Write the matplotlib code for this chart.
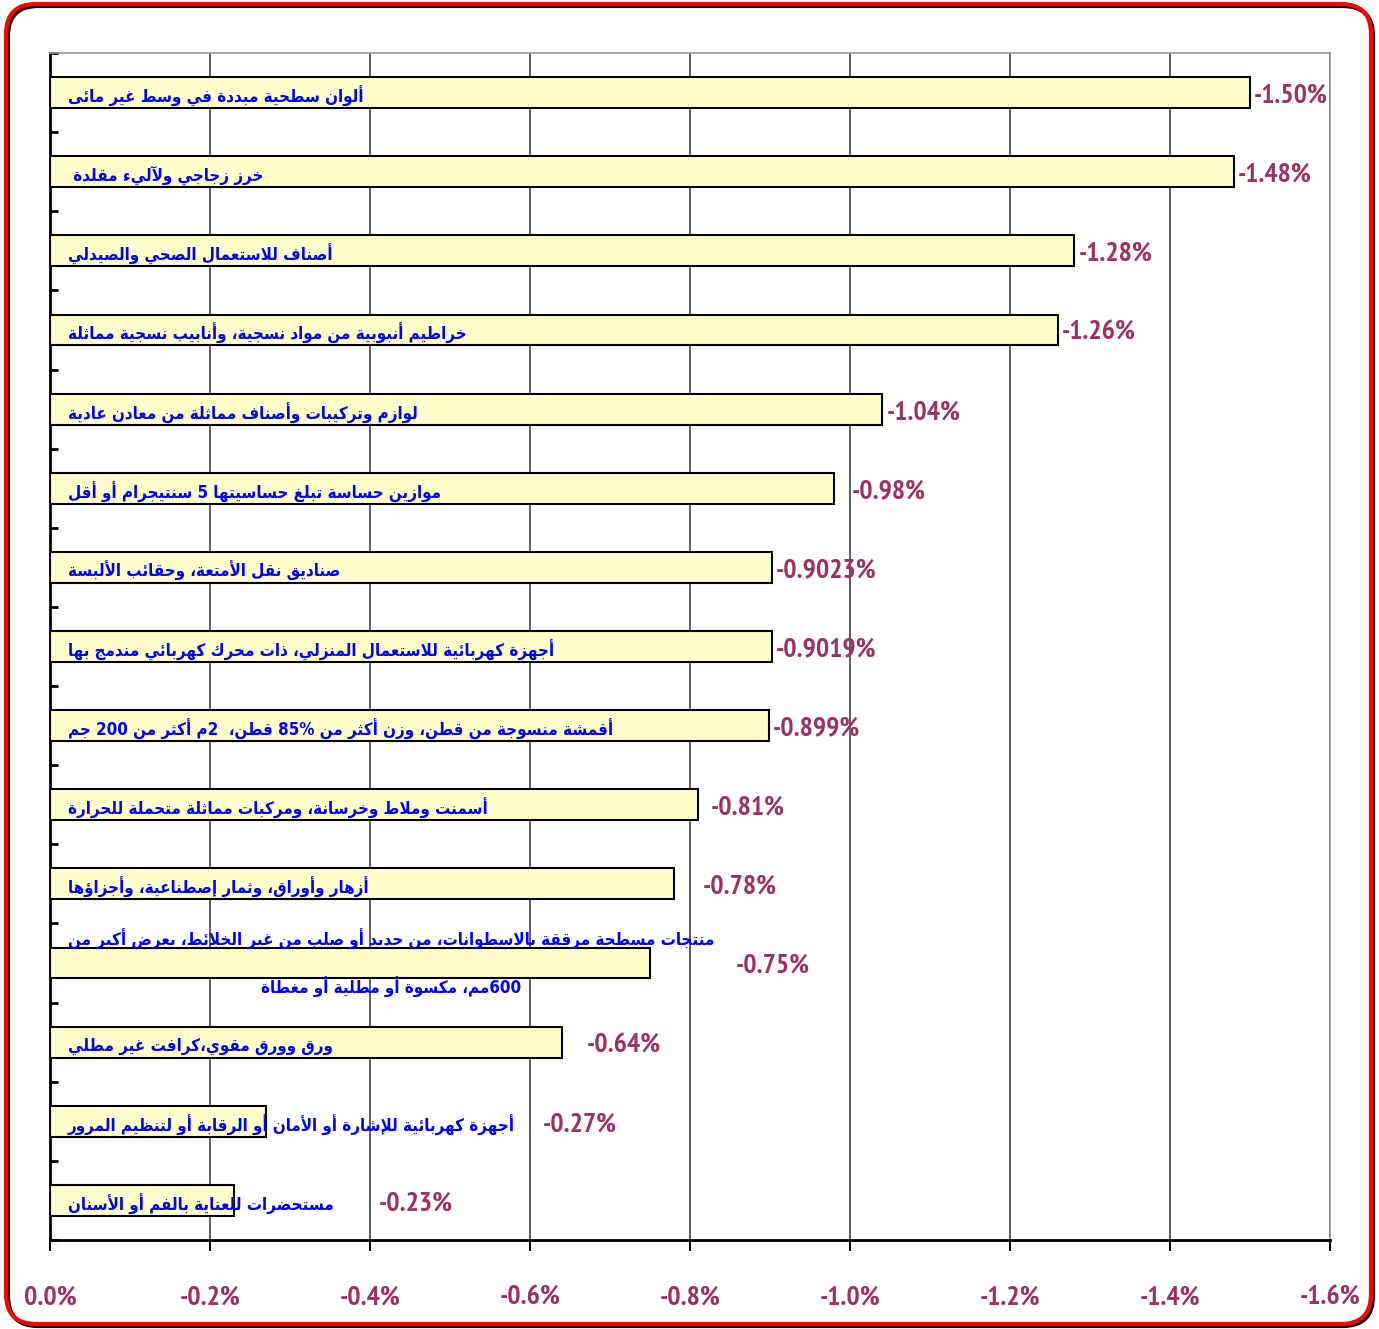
import re
import numpy as np
import matplotlib
matplotlib.use("Agg")
from matplotlib import pyplot as plt
from matplotlib.patches import FancyBboxPatch
from matplotlib import font_manager

categories = [
    "ألوان سطحية مبددة في وسط غير مائى",
    "خرز زجاجي ولآليء مقلدة ",
    "أصناف للاستعمال الصحي والصيدلي",
    "خراطيم أنبوبية من مواد نسجية، وأنابيب نسجية مماثلة",
    "لوازم وتركيبات وأصناف مماثلة من معادن عادية",
    "موازين حساسة تبلغ حساسيتها 5 سنتيجرام أو أقل",
    "صناديق نقل الأمتعة، وحقائب الألبسة",
    "أجهزة كهربائية للاستعمال المنزلي، ذات محرك كهربائي مندمج بها",
    "أقمشة منسوجة من قطن، وزن أكثر من 85% قطن،  2م أكثر من 200 جم",
    "أسمنت وملاط وخرسانة، ومركبات مماثلة متحملة للحرارة",
    "أزهار وأوراق، وثمار إصطناعية، وأجزاؤها",
    "منتجات مسطحة مرققة بالاسطوانات، من حديد أو صلب من غير الخلائط، بعرض أكبر من\n600مم، مكسوة أو مطلية أو مغطاة",
    "ورق وورق مقوي،كرافت غير مطلي",
    "أجهزة كهربائية للإشارة أو الأمان أو الرقابة أو لتنظيم المرور",
    "مستحضرات للعناية بالفم أو الأسنان",
]
values = [-1.50, -1.48, -1.28, -1.26, -1.04, -0.98, -0.9023, -0.9019,
          -0.899, -0.81, -0.78, -0.75, -0.64, -0.27, -0.23]
value_labels = ["-1.50%", "-1.48%", "-1.28%", "-1.26%", "-1.04%", "-0.98%",
                "-0.9023%", "-0.9019%", "-0.899%", "-0.81%", "-0.78%",
                "-0.75%", "-0.64%", "-0.27%", "-0.23%"]
x_ticks = [0.0, -0.2, -0.4, -0.6, -0.8, -1.0, -1.2, -1.4, -1.6]

# label nudges (pixels) so the value labels clear the arabic text
label_shift = [4, 4, 5, 4, 5, 18, 4, 4, 4, 13, 29, 86, 25, 277, 145]

# arabic letters -> first presentation form and number of forms
FORMS = {
    'ء': (0xFE80, 1), 'آ': (0xFE81, 2), 'أ': (0xFE83, 2), 'ؤ': (0xFE85, 2),
    'إ': (0xFE87, 2), 'ئ': (0xFE89, 4), 'ا': (0xFE8D, 2), 'ب': (0xFE8F, 4),
    'ة': (0xFE93, 2), 'ت': (0xFE95, 4), 'ث': (0xFE99, 4), 'ج': (0xFE9D, 4),
    'ح': (0xFEA1, 4), 'خ': (0xFEA5, 4), 'د': (0xFEA9, 2), 'ذ': (0xFEAB, 2),
    'ر': (0xFEAD, 2), 'ز': (0xFEAF, 2), 'س': (0xFEB1, 4), 'ش': (0xFEB5, 4),
    'ص': (0xFEB9, 4), 'ض': (0xFEBD, 4), 'ط': (0xFEC1, 4), 'ظ': (0xFEC5, 4),
    'ع': (0xFEC9, 4), 'غ': (0xFECD, 4), 'ف': (0xFED1, 4), 'ق': (0xFED5, 4),
    'ك': (0xFED9, 4), 'ل': (0xFEDD, 4), 'م': (0xFEE1, 4), 'ن': (0xFEE5, 4),
    'ه': (0xFEE9, 4), 'و': (0xFEED, 2), 'ى': (0xFEEF, 2), 'ي': (0xFEF1, 4),
}
LAM_ALEF = {'آ': 0xFEF5, 'أ': 0xFEF7, 'إ': 0xFEF9, 'ا': 0xFEFB}


def shape_line(line):
    items = []
    i = 0
    while i < len(line):
        c = line[i]
        if c == 'ل' and i + 1 < len(line) and line[i + 1] in LAM_ALEF:
            items.append((LAM_ALEF[line[i + 1]], 2))
            i += 2
        elif c in FORMS:
            items.append(FORMS[c])
            i += 1
        else:
            items.append((c, 0))
            i += 1
    out = []
    for k, (base, n) in enumerate(items):
        if n == 0:
            out.append(base)
            continue
        prev_joins = k > 0 and items[k - 1][1] == 4
        next_joins = n == 4 and k + 1 < len(items) and items[k + 1][1] >= 2
        if n == 1:
            form = 0
        elif prev_joins and next_joins:
            form = 3
        elif prev_joins:
            form = 1
        elif next_joins:
            form = 2
        else:
            form = 0
        out.append(chr(base + form))
    # right to left, numbers keep their order
    tokens = re.findall(r'[0-9%]+|.', ''.join(out))
    return ''.join(reversed(tokens))


def rtl(text):
    return '\n'.join(shape_line(l) for l in text.split('\n'))


def has_bold(name):
    for f in font_manager.fontManager.ttflist:
        if f.name == name:
            w = f.weight
            if (isinstance(w, int) and w >= 700) or str(w).lower() in ('bold', '700', 'heavy', 'black'):
                return True
    return False


candidates = ['PT Sans Narrow', 'Fira Sans Condensed', 'Archivo Narrow',
              'Barlow Condensed', 'Open Sans Condensed', 'Encode Sans Condensed',
              'IBM Plex Sans Condensed', 'Liberation Sans']
num_family = [f for f in candidates if has_bold(f)][:1] + ['DejaVu Sans']

PLUM = '#993366'
NUM_SIZE = 20

fig = plt.figure(figsize=(13.79, 13.29), dpi=100)
ax = fig.add_axes([0.03626, 0.06697, 0.92821, 0.89315])

pos = np.arange(len(values))
ax.barh(pos, values, height=0.39, color='#FFFFCC', edgecolor='black',
        linewidth=1.5, zorder=3)

ax.set_xlim(0, -1.6)
ax.set_ylim(len(values) - 0.5, -0.5)
ax.set_xticks(x_ticks)
ax.set_xticklabels([f"{t:.1f}%" for t in x_ticks], color=PLUM,
                   fontsize=NUM_SIZE, fontweight='bold', family=num_family)
ax.set_yticks(np.arange(-0.5, len(values)))
ax.set_yticklabels([])
ax.tick_params(axis='y', direction='in', length=6, width=2, color='black')
ax.tick_params(axis='x', direction='out', length=8, width=1.5,
               color='black', pad=25)

ax.grid(axis='x', color='#444444', linewidth=1.2, zorder=0)
ax.set_axisbelow(True)
for side in ['left', 'bottom']:
    ax.spines[side].set_linewidth(2)
    ax.spines[side].set_color('black')
for side in ['top', 'right']:
    ax.spines[side].set_linewidth(1.2)
    ax.spines[side].set_color('#999999')

for i, cat in enumerate(categories):
    dy = 0 if '\n' in cat else -4
    ax.annotate(rtl(cat), (0.014, i), xycoords=ax.get_yaxis_transform(),
                xytext=(0, dy), textcoords='offset pixels',
                ha='left', va='center', multialignment='center',
                color='#0000FF', fontsize=12.2, fontweight='bold',
                fontstretch='condensed', family='DejaVu Sans', zorder=4,
                linespacing=2.6)

for i, (v, lab) in enumerate(zip(values, value_labels)):
    ax.annotate(lab, (v, i), xytext=(label_shift[i], -3),
                textcoords='offset pixels', ha='left', va='center',
                color=PLUM, fontsize=NUM_SIZE, fontweight='bold',
                family=num_family, zorder=5)

# rounded red frame with a dark shadow
shadow = FancyBboxPatch((0.08, 0.03), 13.65, 13.2,
                        boxstyle='round,pad=0,rounding_size=0.3',
                        transform=fig.dpi_scale_trans, facecolor='none',
                        edgecolor='black', linewidth=3, zorder=0)
frame = FancyBboxPatch((0.06, 0.05), 13.65, 13.2,
                       boxstyle='round,pad=0,rounding_size=0.3',
                       transform=fig.dpi_scale_trans, facecolor='none',
                       edgecolor='red', linewidth=3, zorder=1)
fig.patches.extend([shadow, frame])

fig.savefig('out.png', dpi=100)
